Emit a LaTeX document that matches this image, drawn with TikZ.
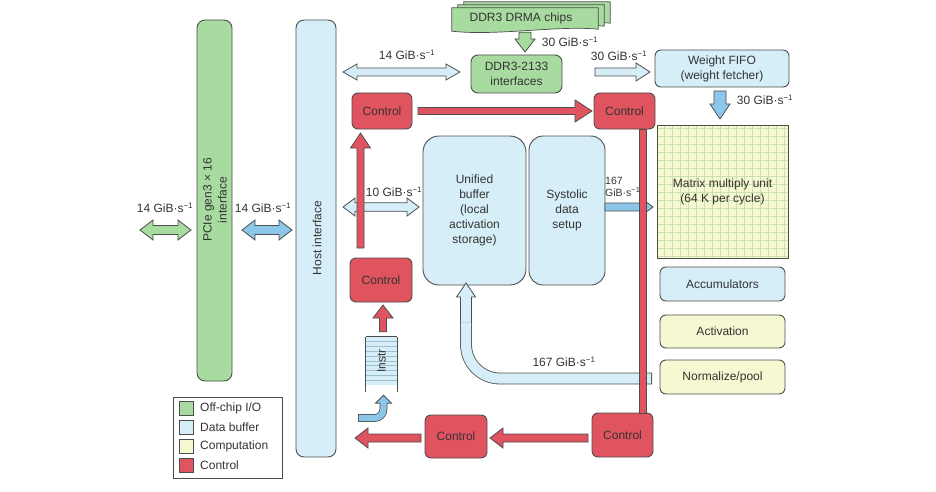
\documentclass[tikz,border=0pt]{standalone}
\usepackage{fontspec}
\setmainfont{Liberation Sans}
\usetikzlibrary{calc}
\definecolor{bordercol}{HTML}{4D4D4D}
\definecolor{textcol}{HTML}{333333}
\definecolor{iogreen}{HTML}{A8DBA0}
\definecolor{buflblue}{HTML}{D6EEF8}
\definecolor{bufdblue}{HTML}{8CC6E8}
\definecolor{compyellow}{HTML}{F6F8D2}
\definecolor{ctlred}{HTML}{E0545F}
\definecolor{gridcol}{HTML}{C9E1AE}
\definecolor{instrline}{HTML}{9FBFCF}

\newcommand\gibs{GiB·s\textsuperscript{−1}}

% single fat arrow: style, from, to, shaft half width, head half width, head length
\newcommand\sarrow[6]{%
  \coordinate (tmpH) at ($(#3)!#6!(#2)$);
  \draw[#1] ($(#2)!#4!90:(#3)$) -- ($(tmpH)!#4!90:(#3)$) -- ($(tmpH)!#5!90:(#3)$) -- (#3)
    -- ($(tmpH)!#5!-90:(#3)$) -- ($(tmpH)!#4!-90:(#3)$) -- ($(#2)!#4!-90:(#3)$) -- cycle;}
% double fat arrow
\newcommand\darrow[6]{%
  \coordinate (tmpHa) at ($(#2)!#6!(#3)$);
  \coordinate (tmpHb) at ($(#3)!#6!(#2)$);
  \draw[#1] (#2) -- ($(tmpHa)!#5!90:(#3)$) -- ($(tmpHa)!#4!90:(#3)$) -- ($(tmpHb)!#4!90:(#3)$)
    -- ($(tmpHb)!#5!90:(#3)$) -- (#3) -- ($(tmpHb)!#5!-90:(#3)$) -- ($(tmpHb)!#4!-90:(#3)$)
    -- ($(tmpHa)!#4!-90:(#3)$) -- ($(tmpHa)!#5!-90:(#3)$) -- cycle;}

\tikzset{
  box/.style={draw=bordercol, line width=0.9pt, rounded corners=6pt, inner sep=0pt, outer sep=0pt, text=textcol, align=center},
  io/.style={box, fill=iogreen},
  buf/.style={box, fill=buflblue},
  comp/.style={box, fill=compyellow},
  ctl/.style={box, fill=ctlred},
  lbl/.style={text=textcol, inner sep=0pt, align=center},
  lsq/.style={draw=bordercol, line width=0.8pt, minimum size=14pt, inner sep=0pt},
  arrbase/.style={draw=bordercol, line width=0.8pt, line join=miter},
  arrio/.style={arrbase, fill=iogreen},
  arrlb/.style={arrbase, fill=buflblue},
  arrdb/.style={arrbase, fill=bufdblue},
  arrred/.style={arrbase, fill=ctlred},
}

\begin{document}
\begin{tikzpicture}[x=1pt,y=-1pt, font=\fontsize{12}{15}\selectfont]
\useasboundingbox (0,0) rectangle (936,492);

% ---- tall bars
\node[io, minimum width=35pt, minimum height=361pt, rounded corners=8pt] (pcie) at (214.5,200.5) {};
\node[lbl, rotate=90] (pcietxt) at (215,200) {PCIe gen3 × 16\\interface};
\node[buf, minimum width=40pt, minimum height=437pt, rounded corners=8pt] (host) at (316,238.5) {};
\node[lbl, rotate=90] (hosttxt) at (317,238) {Host interface};

% ---- DDR3 chips (stacked)
\path node[minimum width=146pt, minimum height=23pt, inner sep=0pt] (chips) at (525,19.5) {};
\foreach \ox/\oy in {12/-6, 6/-3, 0/0} {
  \draw[fill=iogreen, draw=bordercol, line width=0.7pt]
    ($(chips.north west)+(\ox,\oy)$) -- ($(chips.north east)+(\ox,\oy)$)
    -- ($(chips.south east)+(\ox,\oy-2)$) .. controls +(-40,-4) and +(45,5) .. ($(chips.south west)+(\ox,\oy)$) -- cycle;
}
\node[lbl] (chipstxt) at ($(chips.center)+(-4,-1)$) {DDR3 DRMA chips};

% ---- boxes
\node[io, minimum width=91pt, minimum height=38pt, rounded corners=7pt] (ddrif) at (516.5,74) {DDR3-2133\\interfaces};
\node[buf, minimum width=134pt, minimum height=37pt] (wfifo) at (722,68.5) {Weight FIFO\\(weight fetcher)};

\node[comp, rounded corners=0pt, minimum width=131pt, minimum height=133pt] (mmu) at (722.5,191.5) {};
\begin{scope}
  \clip (mmu.south west) rectangle (mmu.north east);
  \draw[gridcol, line width=0.6pt] (mmu.south west) grid[step=8pt] (mmu.north east);
\end{scope}
\draw[draw=bordercol, line width=0.9pt] (mmu.south west) rectangle (mmu.north east);
\node[lbl] (mmutxt) at (mmu.center) {Matrix multiply unit\\(64 K per cycle)};

\node[buf, minimum width=125pt, minimum height=34pt] (acc) at (722.5,284) {Accumulators};
\node[comp, minimum width=125pt, minimum height=33pt] (act) at (722.5,331.5) {Activation};
\node[comp, minimum width=125pt, minimum height=34pt] (norm) at (722.5,377) {Normalize/pool};

\node[ctl, minimum width=60pt, minimum height=36pt] (ctlTL) at (382,111) {Control};
\node[ctl, minimum width=61pt, minimum height=36pt] (ctlTR) at (624.5,111) {Control};
\node[buf, minimum width=103pt, minimum height=149pt, rounded corners=16pt] (ub) at (474.5,210.5) {Unified\\buffer\\(local\\activation\\storage)};
\node[buf, minimum width=76pt, minimum height=149pt, rounded corners=14pt] (sds) at (567,210.5) {Systolic\\data\\setup};
\node[ctl, minimum width=62pt, minimum height=44pt] (ctlML) at (381,280) {Control};
\node[ctl, minimum width=62pt, minimum height=43pt] (ctlBM) at (456,436.5) {Control};
\node[ctl, minimum width=61pt, minimum height=44pt] (ctlBR) at (622.5,435) {Control};

% ---- instruction queue
\node[inner sep=0pt, minimum width=31pt, minimum height=48pt, fill=buflblue] (instr) at (381.5,361) {};
\foreach \i in {1,...,9}
  \draw[instrline, line width=0.5pt] ($(instr.north west)+(0,\i*4.8)$) -- ($(instr.north east)+(0,\i*4.8)$);
\draw[bordercol, line width=0.8pt] (instr.north west) -- (instr.north east);
\draw[bordercol, line width=0.8pt] (instr.north west) -- ($(instr.south west)+(0,7)$);
\draw[bordercol, line width=0.8pt] (instr.north east) -- ($(instr.south east)+(0,7)$);
\node[lbl, rotate=90] (instrtxt) at (instr.center) {Instr};

% ---- legend
\node[draw=bordercol, line width=0.8pt, minimum width=109pt, minimum height=81pt, inner sep=0pt] (legend) at (227.5,437.5) {};
\node[lsq, fill=iogreen] (lg1) at ($(legend.north west)+(14,12)$) {};
\node[lsq, fill=buflblue] (lg2) at ($(legend.north west)+(14,31)$) {};
\node[lsq, fill=compyellow] (lg3) at ($(legend.north west)+(14,50)$) {};
\node[lsq, fill=ctlred] (lg4) at ($(legend.north west)+(14,69)$) {};
\node[lbl, anchor=west] (lt1) at ($(lg1.east)+(6,0)$) {Off-chip I/O};
\node[lbl, anchor=west] (lt2) at ($(lg2.east)+(6,0)$) {Data buffer};
\node[lbl, anchor=west] (lt3) at ($(lg3.east)+(6,0)$) {Computation};
\node[lbl, anchor=west] (lt4) at ($(lg4.east)+(6,0)$) {Control};

% ---- data arrows
\coordinate (a1s) at ($(pcie.west)+(-57,29.5)$);
\coordinate (a1e) at ($(pcie.west)+(-6,29.5)$);
\darrow{arrio}{a1s}{a1e}{4.5pt}{10pt}{13pt}
\coordinate (a2s) at ($(pcie.east)+(10,29.5)$);
\coordinate (a2e) at ($(host.west)+(-4,-8.5)$);
\darrow{arrdb}{a2s}{a2e}{4.5pt}{10pt}{13pt}
\coordinate (a3s) at ($(host.east |- ddrif.west)+(7,-2)$);
\coordinate (a3e) at ($(ddrif.west)+(-11,-2)$);
\darrow{arrlb}{a3s}{a3e}{4pt}{8pt}{14pt}
\coordinate (a4s) at ($(ddrif.east)+(33,-2)$);
\coordinate (a4e) at ($(wfifo.west)+(-5,3.5)$);
\sarrow{arrlb}{a4s}{a4e}{4pt}{9pt}{14pt}
\coordinate (a5s) at ($(chips.south)+(0,1)$);
\coordinate (a5e) at ($(ddrif.north)+(8.5,-3)$);
\sarrow{arrio}{a5s}{a5e}{6pt}{10pt}{13pt}
\coordinate (a6s) at ($(wfifo.south)+(-2,4)$);
\coordinate (a6e) at ($(mmu.north)+(-2.5,-6)$);
\sarrow{arrdb}{a6s}{a6e}{6pt}{10pt}{15pt}
\coordinate (a9s) at ($(host.east)+(7,-31.5)$);
\coordinate (a9e) at ($(ub.west)+(-4,-3.5)$);
\darrow{arrlb}{a9s}{a9e}{4.3pt}{9pt}{12pt}
\coordinate (a10s) at ($(sds.east)+(0,-3.5)$);
\coordinate (a10e) at ($(mmu.west)+(-4,15.5)$);
\sarrow{arrdb}{a10s}{a10e}{4pt}{9pt}{12pt}

% curved 167 GiB/s return path
\coordinate (c15s) at ($(norm.west)+(-8,1.5)$);
\coordinate (c15t) at ($(ub.south)+(-8.5,-2)$);
\coordinate (c15m) at ($(c15t)+(0,40)$);
\draw[draw=bordercol, line width=11.8pt, rounded corners=34pt] (c15s) -- (c15s -| c15t) -- (c15m);
\sarrow{arrlb}{c15m}{c15t}{5.5pt}{9.5pt}{14pt}
\draw[draw=buflblue, line width=10.2pt, rounded corners=34pt] ($(c15s)+(-0.8,0)$) -- (c15s -| c15t) -- ($(c15m)+(0,-0.6)$);

% curved small arrow into instr
\coordinate (c14s) at ($(host.east)+(22,179.5)$);
\coordinate (c14t) at ($(instr.south)+(2,10)$);
\coordinate (c14m) at ($(c14t)+(0,11)$);
\draw[draw=bordercol, line width=7.8pt, rounded corners=9pt] (c14s) -- (c14s -| c14t) -- (c14m);
\sarrow{arrdb}{c14m}{c14t}{3.5pt}{8pt}{8pt}
\draw[draw=bufdblue, line width=6.2pt, rounded corners=9pt] ($(c14s)+(0.8,0)$) -- (c14s -| c14t) -- ($(c14m)+(0,-0.6)$);

% ---- control bar and arrows
\draw[arrred] ($(ctlTR.south)+(14.5,0)$) rectangle ($(ctlBR.north)+(23.5,0)$);
\coordinate (a7s) at ($(ctlTL.east)+(6,0)$);
\coordinate (a7e) at ($(ctlTR.west)+(-2,0)$);
\sarrow{arrred}{a7s}{a7e}{3.5pt}{11pt}{17pt}
\coordinate (a8s) at ($(ctlML.north)+(-20.5,-10)$);
\coordinate (a8e) at ($(ctlTL.south)+(-21.5,4)$);
\sarrow{arrred}{a8s}{a8e}{3.5pt}{10pt}{15pt}
\coordinate (a11s) at ($(instr.north)+(1.5,-5)$);
\coordinate (a11e) at ($(ctlML.south)+(2,3)$);
\sarrow{arrred}{a11s}{a11e}{3.5pt}{10pt}{13pt}
\coordinate (a12s) at ($(ctlBR.west)+(-4,3)$);
\coordinate (a12e) at ($(ctlBM.east)+(3,1.5)$);
\sarrow{arrred}{a12s}{a12e}{4pt}{10pt}{13pt}
\coordinate (a13s) at ($(ctlBM.west)+(-4,1.5)$);
\coordinate (a13e) at ($(host.east)+(19,199.5)$);
\sarrow{arrred}{a13s}{a13e}{4pt}{10pt}{13pt}

% ---- bandwidth labels
\node[lbl] (l1) at (165,208) {14 \gibs};
\node[lbl] (l2) at (263,208) {14 \gibs};
\node[lbl] (l3) at (407,55) {14 \gibs};
\node[lbl] (l4) at (570,42) {30 \gibs};
\node[lbl] (l5) at (619,56) {30 \gibs};
\node[lbl] (l6) at (765,100) {30 \gibs};
\node[lbl] (l7) at (394,192) {10 \gibs};
\node[lbl, anchor=west, align=left, font=\fontsize{10.5}{12}\selectfont] (l8) at (605,187) {167\\\gibs};
\node[lbl] (l9) at (564,362) {167 \gibs};
\end{tikzpicture}
\end{document}
